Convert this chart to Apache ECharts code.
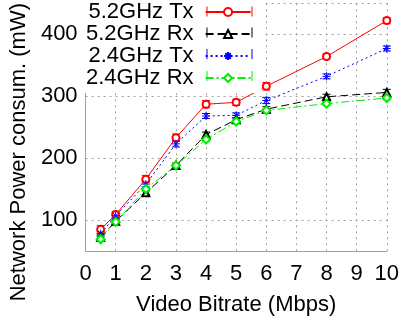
<!DOCTYPE html>
<html><head><meta charset="utf-8">
<script src="https://cdn.jsdelivr.net/npm/echarts@6/dist/echarts.min.js"></script>
<style>html,body{margin:0;padding:0;background:#fff}#c{width:402px;height:323px}</style>
</head><body><div id="c"></div>
<script>
const bitrates = [0.5, 1, 2, 3, 4, 5, 6, 8, 10];
const seriesNames = ['5.2GHz Tx', '5.2GHz Rx', '2.4GHz Tx', '2.4GHz Rx'];
const tx52 = [85, 109, 166, 233, 287, 290, 316, 364, 422];
const rx52 = [72, 98, 144, 188, 238, 262, 279, 299, 306];
const tx24 = [78, 107, 158, 223, 268, 269, 293, 332, 377];
const rx24 = [69, 97, 150, 188, 230, 259, 277, 288, 297];
const err52tx = [6, 5, 6, 6, 6, 5, 6, 4, 5];
const err52rx = [4, 3, 3, 4, 4, 3, 4, 4, 5];
const err24tx = [4, 4, 4, 5, 4, 4, 5, 4, 4];
const err24rx = [3, 3, 3, 3, 3, 3, 3, 3, 3];
const xTicks = [0,1,2,3,4,5,6,7,8,9,10];
const yTicks = [100, 200, 300, 400];

const font = 'Liberation Sans, Arial, Helvetica, sans-serif';
const colors = ['#ff0000', '#000000', '#0000ff', '#00ee00'];
const dashes = ['solid', [8, 4], [2, 3], [8, 3, 2, 3]];
const symbols = ['emptyCircle', 'emptyTriangle',
  'path://M5,0L5,10M0,5L10,5M1.5,1.5L8.5,8.5M1.5,8.5L8.5,1.5', 'emptyDiamond'];
const symSizes = [7, 7, 8, 8];
const values = [tx52, rx52, tx24, rx24];
const errs = [err52tx, err52rx, err24tx, err24rx];

const series = [];
values.forEach((vals, i) => {
  series.push({
    name: seriesNames[i], type: 'line',
    data: bitrates.map((x, k) => [x, vals[k]]),
    symbol: symbols[i], symbolSize: symSizes[i],
    lineStyle: {color: colors[i], width: 1, type: dashes[i]},
    itemStyle: {color: colors[i], borderColor: colors[i], borderWidth: 1},
    z: 3
  });
  series.push({
    name: seriesNames[i], type: 'custom',
    data: bitrates.map((x, k) => [x, vals[k], errs[i][k]]),
    encode: {x: 0, y: 1},
    z: 2,
    renderItem: function (params, api) {
      const x = api.value(0), y = api.value(1), e = api.value(2);
      const hi = api.coord([x, y + e]);
      const lo = api.coord([x, y - e]);
      const w = 4;
      const st = {stroke: colors[i], lineWidth: 1};
      return {type: 'group', children: [
        {type: 'line', shape: {x1: hi[0], y1: hi[1], x2: lo[0], y2: lo[1]}, style: st},
        {type: 'line', shape: {x1: hi[0]-w, y1: hi[1], x2: hi[0]+w, y2: hi[1]}, style: st},
        {type: 'line', shape: {x1: lo[0]-w, y1: lo[1], x2: lo[0]+w, y2: lo[1]}, style: st}
      ]};
    }
  });
});

// error-bar end caps of the legend samples
const legendRows = [11.5, 32.5, 54, 76];
const capEls = [];
legendRows.forEach((cy, i) => {
  [207, 252].forEach(cx => {
    capEls.push({type: 'line', z: 100, silent: true,
      shape: {x1: cx, y1: cy - 5, x2: cx, y2: cy + 5},
      style: {stroke: colors[i], lineWidth: 1}});
  });
});

const chart = echarts.init(document.getElementById('c'), null, {renderer: 'canvas'});
chart.setOption({
  animation: false,
  backgroundColor: '#fff',
  textStyle: {fontFamily: font},
  grid: {left: 80, right: 15, top: 2, bottom: 72, containLabel: false},
  legend: {
    data: seriesNames,
    orient: 'vertical', align: 'right',
    left: 80, top: 0,
    padding: [1, 10, 4, 6],
    backgroundColor: '#fff',
    itemWidth: 45, itemHeight: 10, itemGap: 0,
    textStyle: {fontFamily: font, fontSize: 22, color: '#000', lineHeight: 21.5, padding: [0, 7, 0, 0]}
  },
  graphic: capEls,
  xAxis: {
    type: 'value', min: 0, max: 10, interval: 1,
    name: 'Video Bitrate (Mbps)', nameLocation: 'middle', nameGap: 43,
    nameTextStyle: {fontFamily: font, fontSize: 22, color: '#000'},
    axisLine: {show: true, lineStyle: {color: '#a0a0a0', width: 1}},
    axisTick: {show: false},
    axisLabel: {fontFamily: font, fontSize: 22, color: '#000', margin: 12,
      formatter: v => xTicks.includes(v) ? String(v) : ''},
    splitLine: {show: true, lineStyle: {color: '#a0a0a0', type: [2, 4], width: 1}}
  },
  yAxis: {
    type: 'value', min: 50, max: 450, splitNumber: 4,
    name: 'Network Power consum. (mW)', nameLocation: 'middle', nameGap: 48,
    nameTextStyle: {fontFamily: font, fontSize: 22, color: '#000', padding: [0, 50, 0, 0]},
    axisLine: {show: true, lineStyle: {color: '#a0a0a0', width: 1}},
    axisTick: {show: false},
    axisLabel: {fontFamily: font, fontSize: 22, color: '#000', margin: 8,
      showMinLabel: false, showMaxLabel: false,
      formatter: v => yTicks.includes(v) ? String(v) : ''},
    splitLine: {show: true, lineStyle: {color: '#a0a0a0', type: [2, 4], width: 1}}
  },
  series: series
});
</script></body></html>
